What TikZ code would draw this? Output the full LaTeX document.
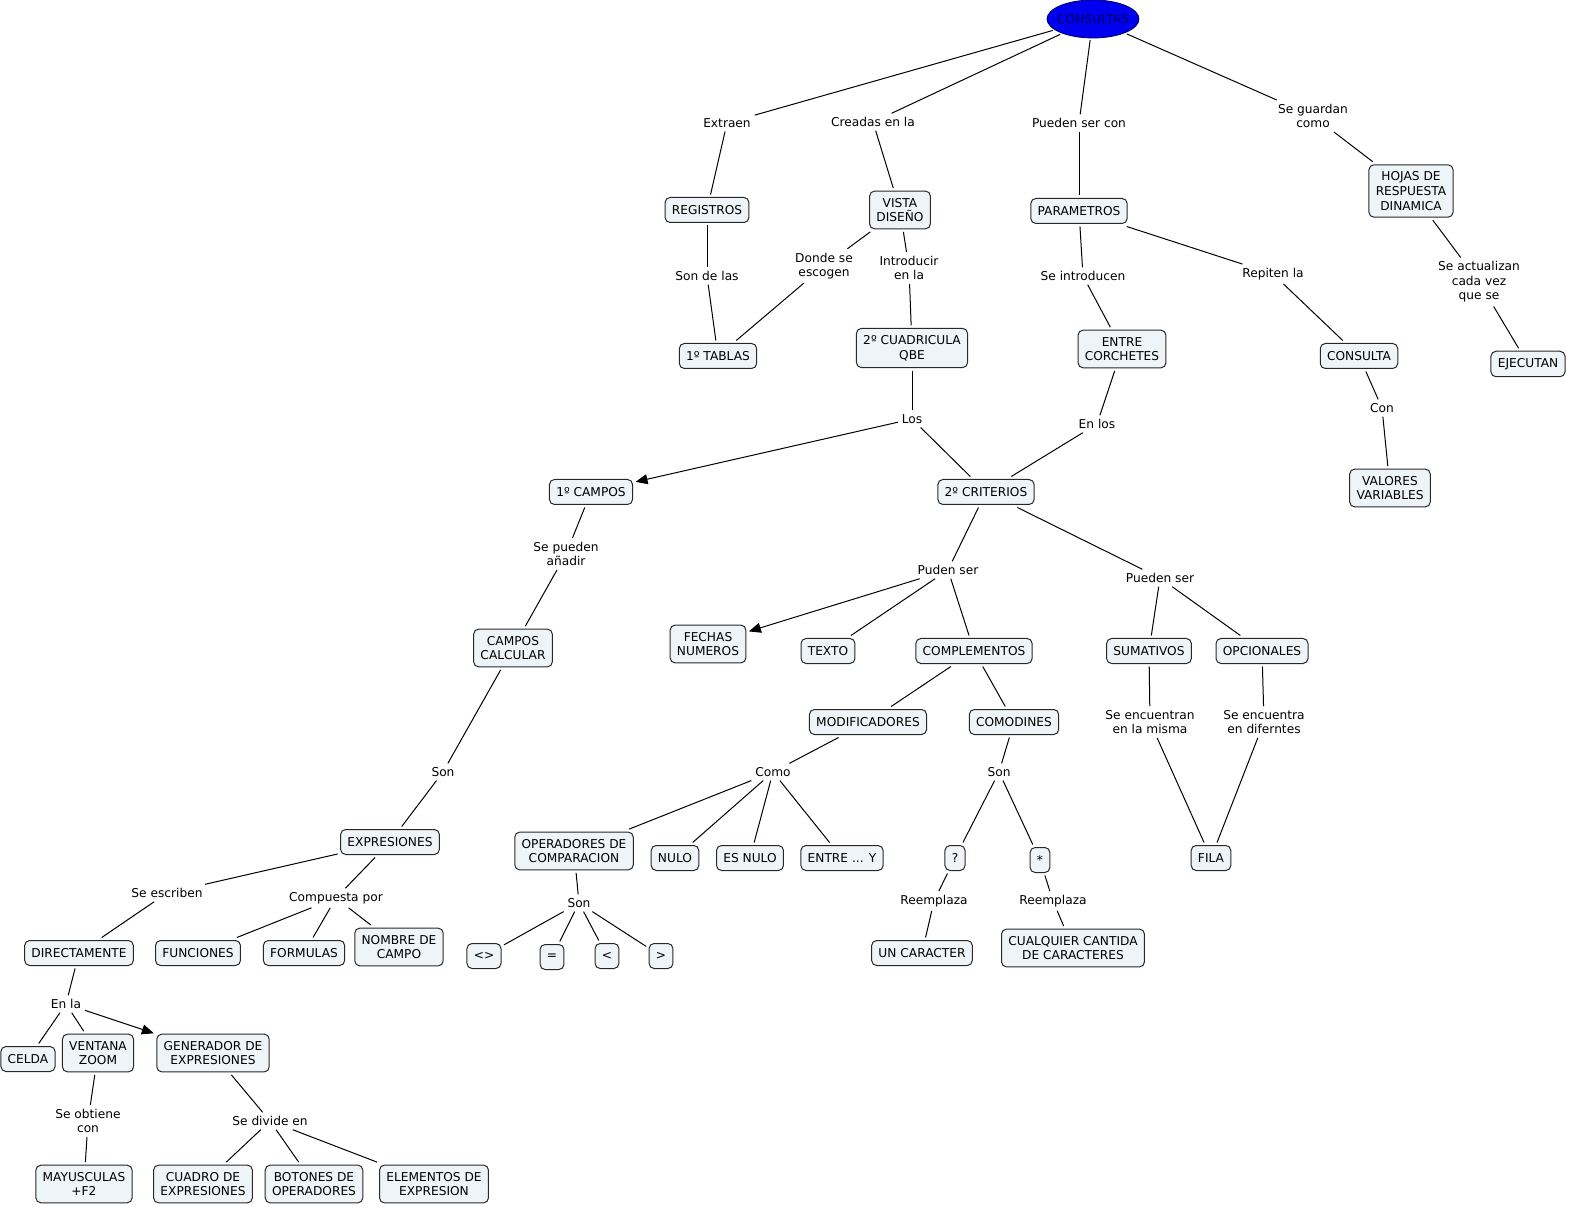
\documentclass[tikz,border=0pt]{standalone}
\usepackage{fontspec}
\setmainfont{DejaVu Sans}
\usetikzlibrary{shapes.geometric,arrows.meta}
\definecolor{cmapfill}{RGB}{238,244,247}
\definecolor{cmapline}{RGB}{40,40,40}
\definecolor{cmapblue}{RGB}{0,0,240}
\definecolor{cmapnavy}{RGB}{0,0,90}
\begin{document}
\begin{tikzpicture}[x=0.5pt,y=-0.5pt,
  every node/.style={font=\fontsize{6.1pt}{7.3pt}\selectfont},
  concept/.style={draw=cmapline,line width=0.5pt,rounded corners=2.5pt,fill=cmapfill,align=center,inner xsep=3.4pt,inner ysep=3.5pt,minimum height=12.5pt,outer sep=1.5pt},
  phrase/.style={align=center,inner sep=1.5pt,outer sep=0.5pt},
  link/.style={draw=black,line width=0.5pt},
  linkarrow/.style={link,-{Triangle[length=6pt,width=5pt]}}
]
  \useasboundingbox (0,0) rectangle (1570,1208);
  % top concept
  \node[ellipse,draw=cmapnavy,fill=cmapblue,minimum width=46pt,minimum height=19pt,inner sep=0pt,outer sep=1pt,
    label={[text=cmapnavy]center:CONSULTAS}] (consultas) at (1093,19) {};
  % concepts
  \node[concept] (registros) at (707,210) {REGISTROS};
  \node[concept] (vista) at (900,210) {VISTA\\DISEÑO};
  \node[concept] (parametros) at (1079,211) {PARAMETROS};
  \node[concept] (hojas) at (1411,191) {HOJAS DE\\RESPUESTA\\DINAMICA};
  \node[concept] (tablas) at (718,356) {1º TABLAS};
  \node[concept] (cuadricula) at (912,348) {2º CUADRICULA\\QBE};
  \node[concept] (corchetes) at (1122,349) {ENTRE\\CORCHETES};
  \node[concept] (consulta) at (1359,356) {CONSULTA};
  \node[concept] (ejecutan) at (1528,364) {EJECUTAN};
  \node[concept] (valores) at (1390,488) {VALORES\\VARIABLES};
  \node[concept] (campos) at (591,492) {1º CAMPOS};
  \node[concept] (criterios) at (986,492) {2º CRITERIOS};
  \node[concept] (calcular) at (513,648) {CAMPOS\\CALCULAR};
  \node[concept] (fechas) at (708,644) {FECHAS\\NUMEROS};
  \node[concept] (texto) at (828,651) {TEXTO};
  \node[concept] (complementos) at (974,651) {COMPLEMENTOS};
  \node[concept] (sumativos) at (1149,651) {SUMATIVOS};
  \node[concept] (opcionales) at (1262,651) {OPCIONALES};
  \node[concept] (modificadores) at (868,722) {MODIFICADORES};
  \node[concept] (comodines) at (1014,722) {COMODINES};
  \node[concept] (expresiones) at (390,842) {EXPRESIONES};
  \node[concept] (operadores) at (574,851) {OPERADORES DE\\COMPARACION};
  \node[concept] (nulo) at (675,858) {NULO};
  \node[concept] (esnulo) at (750,858) {ES NULO};
  \node[concept] (entrey) at (842,858) {ENTRE ... Y};
  \node[concept] (interrog) at (955,858) {?};
  \node[concept] (asterisco) at (1040,860) {*};
  \node[concept] (fila) at (1211,858) {FILA};
  \node[concept] (directamente) at (79,953) {DIRECTAMENTE};
  \node[concept] (funciones) at (198,953) {FUNCIONES};
  \node[concept] (formulas) at (304,953) {FORMULAS};
  \node[concept] (nombre) at (399,947) {NOMBRE DE\\CAMPO};
  \node[concept] (distinto) at (484,956) {<>};
  \node[concept] (igual) at (552,957) {=};
  \node[concept] (menor) at (607,956) {<};
  \node[concept] (mayor) at (661,956) {>};
  \node[concept] (uncaracter) at (922,953) {UN CARACTER};
  \node[concept] (cualquier) at (1073,948) {CUALQUIER CANTIDA\\DE CARACTERES};
  \node[concept] (celda) at (28,1059) {CELDA};
  \node[concept] (ventana) at (98,1053) {VENTANA\\ZOOM};
  \node[concept] (generador) at (213,1053) {GENERADOR DE\\EXPRESIONES};
  \node[concept] (mayusculas) at (84,1184) {MAYUSCULAS\\+F2};
  \node[concept] (cuadro) at (203,1184) {CUADRO DE\\EXPRESIONES};
  \node[concept] (botones) at (314,1184) {BOTONES DE\\OPERADORES};
  \node[concept] (elementos) at (434,1184) {ELEMENTOS DE\\EXPRESION};
  % linking phrases
  \node[phrase] (extraen) at (727,123) {Extraen};
  \node[phrase] (creadas) at (873,122) {Creadas en la};
  \node[phrase] (puedencon) at (1079,123) {Pueden ser con};
  \node[phrase] (guardan) at (1313,116) {Se guardan\\como};
  \node[phrase] (sondelas) at (707,276) {Son de las};
  \node[phrase] (donde) at (824,266) {Donde se\\escogen};
  \node[phrase] (introducir) at (909,268) {Introducir\\en la};
  \node[phrase] (seintroducen) at (1083,276) {Se introducen};
  \node[phrase] (repiten) at (1273,274) {Repiten la};
  \node[phrase] (actualizan) at (1479,282) {Se actualizan\\cada vez\\que se};
  \node[phrase] (los) at (912,419) {Los};
  \node[phrase] (enlos) at (1097,424) {En los};
  \node[phrase] (con) at (1382,408) {Con};
  \node[phrase] (anadir) at (566,554) {Se pueden\\añadir};
  \node[phrase] (pudenser) at (948,570) {Puden ser};
  \node[phrase] (puedenser) at (1160,578) {Pueden ser};
  \node[phrase] (sonexp) at (443,772) {Son};
  \node[phrase] (misma) at (1150,722) {Se encuentran\\en la misma};
  \node[phrase] (diferntes) at (1264,722) {Se encuentra\\en diferntes};
  \node[phrase] (como) at (773,772) {Como};
  \node[phrase] (soncomod) at (999,772) {Son};
  \node[phrase] (escriben) at (167,893) {Se escriben};
  \node[phrase] (compuesta) at (336,898) {Compuesta por};
  \node[phrase] (sonoper) at (579,903) {Son};
  \node[phrase] (reemplazaa) at (934,901) {Reemplaza};
  \node[phrase] (reemplazab) at (1053,901) {Reemplaza};
  \node[phrase] (enla) at (66,1004) {En la};
  \node[phrase] (obtiene) at (88,1121) {Se obtiene\\con};
  \node[phrase] (divide) at (270,1121) {Se divide en};
  % connectors
  \draw[link] (consultas) -- (extraen);
  \draw[link] (extraen) -- (registros);
  \draw[link] (consultas) -- (creadas);
  \draw[link] (creadas) -- (vista);
  \draw[link] (consultas) -- (puedencon);
  \draw[link] (puedencon) -- (parametros);
  \draw[link] (consultas) -- (guardan);
  \draw[link] (guardan) -- (hojas);
  \draw[link] (registros) -- (sondelas);
  \draw[link] (sondelas) -- (tablas);
  \draw[link] (vista) -- (donde);
  \draw[link] (donde) -- (tablas);
  \draw[link] (vista) -- (introducir);
  \draw[link] (introducir) -- (cuadricula);
  \draw[link] (parametros) -- (seintroducen);
  \draw[link] (seintroducen) -- (corchetes);
  \draw[link] (parametros) -- (repiten);
  \draw[link] (repiten) -- (consulta);
  \draw[link] (hojas) -- (actualizan);
  \draw[link] (actualizan) -- (ejecutan);
  \draw[link] (cuadricula) -- (los);
  \draw[linkarrow] (los) -- (campos);
  \draw[link] (los) -- (criterios);
  \draw[link] (corchetes) -- (enlos);
  \draw[link] (enlos) -- (criterios);
  \draw[link] (consulta) -- (con);
  \draw[link] (con) -- (valores);
  \draw[link] (campos) -- (anadir);
  \draw[link] (anadir) -- (calcular);
  \draw[link] (criterios) -- (pudenser);
  \draw[linkarrow] (pudenser) -- (fechas);
  \draw[link] (pudenser) -- (texto);
  \draw[link] (pudenser) -- (complementos);
  \draw[link] (criterios) -- (puedenser);
  \draw[link] (puedenser) -- (sumativos);
  \draw[link] (puedenser) -- (opcionales);
  \draw[link] (calcular) -- (sonexp);
  \draw[link] (sonexp) -- (expresiones);
  \draw[link] (sumativos) -- (misma);
  \draw[link] (misma) -- (fila);
  \draw[link] (opcionales) -- (diferntes);
  \draw[link] (diferntes) -- (fila);
  \draw[link] (complementos) -- (modificadores);
  \draw[link] (complementos) -- (comodines);
  \draw[link] (modificadores) -- (como);
  \draw[link] (como) -- (operadores);
  \draw[link] (como) -- (nulo);
  \draw[link] (como) -- (esnulo);
  \draw[link] (como) -- (entrey);
  \draw[link] (comodines) -- (soncomod);
  \draw[link] (soncomod) -- (interrog);
  \draw[link] (soncomod) -- (asterisco);
  \draw[link] (expresiones) -- (escriben);
  \draw[link] (escriben) -- (directamente);
  \draw[link] (expresiones) -- (compuesta);
  \draw[link] (compuesta) -- (funciones);
  \draw[link] (compuesta) -- (formulas);
  \draw[link] (compuesta) -- (nombre);
  \draw[link] (operadores) -- (sonoper);
  \draw[link] (sonoper) -- (distinto);
  \draw[link] (sonoper) -- (igual);
  \draw[link] (sonoper) -- (menor);
  \draw[link] (sonoper) -- (mayor);
  \draw[link] (interrog) -- (reemplazaa);
  \draw[link] (reemplazaa) -- (uncaracter);
  \draw[link] (asterisco) -- (reemplazab);
  \draw[link] (reemplazab) -- (cualquier);
  \draw[link] (directamente) -- (enla);
  \draw[link] (enla) -- (celda);
  \draw[link] (enla) -- (ventana);
  \draw[linkarrow] (enla) -- (generador);
  \draw[link] (ventana) -- (obtiene);
  \draw[link] (obtiene) -- (mayusculas);
  \draw[link] (generador) -- (divide);
  \draw[link] (divide) -- (cuadro);
  \draw[link] (divide) -- (botones);
  \draw[link] (divide) -- (elementos);
\end{tikzpicture}
\end{document}
